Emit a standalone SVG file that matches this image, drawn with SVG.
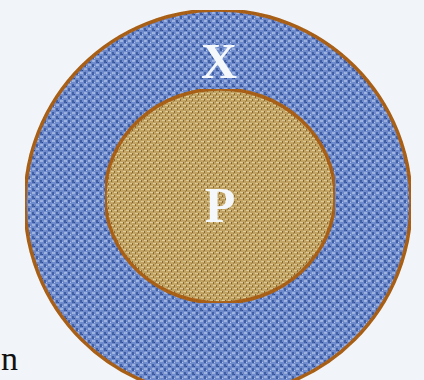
<svg xmlns="http://www.w3.org/2000/svg" width="424" height="380" viewBox="0 0 424 380">
<defs>
<pattern id="blueWeave" width="8" height="8" patternUnits="userSpaceOnUse">
<rect width="8" height="8" fill="#7896dc"/>
<rect x="0" y="0" width="3" height="2" fill="#a9c0f0"/>
<rect x="4" y="4" width="3" height="2" fill="#a9c0f0"/>
<rect x="0" y="4" width="2" height="3" fill="#4767b2"/>
<rect x="4" y="0" width="2" height="3" fill="#4767b2"/>
<rect x="6" y="2" width="1" height="1" fill="#c0d2f5"/>
<rect x="2" y="6" width="1" height="1" fill="#34519a"/>
</pattern>
<pattern id="tanWeave" width="6" height="6" patternUnits="userSpaceOnUse">
<rect width="6" height="6" fill="#d0b06c"/>
<rect x="0" y="0" width="3" height="1" fill="#efdaa4"/>
<rect x="3" y="3" width="3" height="1" fill="#efdaa4"/>
<rect x="0" y="3" width="1" height="2" fill="#93723a"/>
<rect x="3" y="0" width="1" height="2" fill="#93723a"/>
<rect x="5" y="5" width="1" height="1" fill="#ad8c4f"/>
</pattern>
<filter id="noise" x="0" y="0" width="100%" height="100%">
<feTurbulence type="fractalNoise" baseFrequency="0.6" numOctaves="2" seed="3" result="n"/>
<feColorMatrix in="n" type="matrix" values="0 0 0 0 0  0 0 0 0 0  0 0 0 0 0  0 0 0 0.3 0" result="a"/>
<feComposite in="a" in2="SourceGraphic" operator="in" result="m"/>
<feMerge><feMergeNode in="SourceGraphic"/><feMergeNode in="m"/></feMerge>
</filter>
<style>
.ring{stroke:#b5681f;stroke-width:3.5}
.lbl{font-family:"Liberation Serif","Times New Roman",serif;font-weight:bold;font-size:50px;fill:#f4f8fb;text-anchor:middle}
</style>
</defs>
<rect width="424" height="380" fill="#f1f5f9"/>
<g id="X">
<ellipse cx="218" cy="203" rx="193" ry="193" fill="url(#blueWeave)" filter="url(#noise)" class="ring"/>
<text class="lbl" x="219" y="78">X</text>
</g>
<g id="P">
<ellipse cx="220" cy="196" rx="115" ry="107" fill="url(#tanWeave)" filter="url(#noise)" class="ring"/>
<text class="lbl" x="220" y="222">P</text>
</g>
<text x="1" y="370" font-family="Liberation Serif, serif" font-size="34" fill="#111">n</text>
</svg>
